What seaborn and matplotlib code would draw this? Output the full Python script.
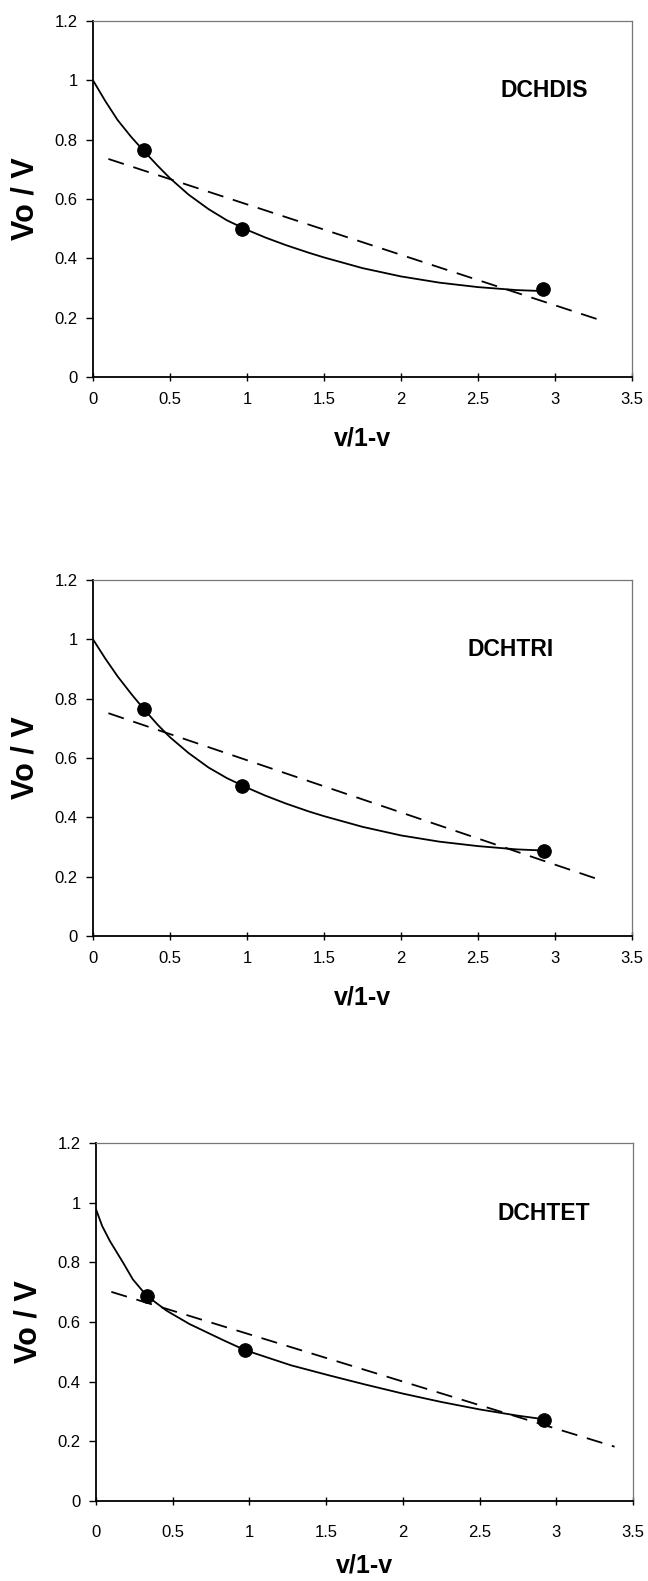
import matplotlib
matplotlib.use("Agg")
import matplotlib.pyplot as plt
import seaborn as sns
import pandas as pd

sns.set_style("ticks")
plt.rcParams["font.family"] = ["Liberation Sans", "DejaVu Sans"]
plt.rcParams["text.color"] = "black"
plt.rcParams["axes.labelcolor"] = "black"
plt.rcParams["xtick.color"] = "black"
plt.rcParams["ytick.color"] = "black"

# ---- data -------------------------------------------------------------
panel_names = ["DCHDIS", "DCHTRI", "DCHTET"]

# measured points (v/1-v, Vo/V)
dis_x = [0.33, 0.97, 2.92]
dis_y = [0.765, 0.50, 0.295]
tri_x = [0.33, 0.97, 2.93]
tri_y = [0.765, 0.505, 0.288]
tet_x = [0.33, 0.97, 2.92]
tet_y = [0.688, 0.507, 0.273]

# fitted curve (solid)
dis_curve_x = [0.0, 0.08, 0.16, 0.25, 0.33, 0.42, 0.5, 0.62, 0.75, 0.87, 1.0, 1.12,
               1.25, 1.4, 1.5, 1.75, 2.0, 2.25, 2.5, 2.75, 2.9]
dis_curve_y = [1.0, 0.93, 0.866, 0.808, 0.762, 0.712, 0.67, 0.615, 0.566, 0.528, 0.496, 0.47,
               0.445, 0.419, 0.403, 0.367, 0.339, 0.318, 0.303, 0.293, 0.290]
tri_curve_x = [0.0, 0.08, 0.16, 0.25, 0.33, 0.42, 0.5, 0.62, 0.75, 0.87, 1.0, 1.12,
               1.25, 1.4, 1.5, 1.75, 2.0, 2.25, 2.5, 2.75, 2.93]
tri_curve_y = [1.0, 0.935, 0.875, 0.815, 0.765, 0.712, 0.670, 0.617, 0.568, 0.532, 0.500, 0.473,
               0.447, 0.420, 0.404, 0.368, 0.339, 0.318, 0.303, 0.292, 0.288]
tet_curve_x = [0.0, 0.04, 0.09, 0.18, 0.24, 0.33, 0.46, 0.61, 0.83, 0.97, 1.27, 1.52,
               1.75, 2.0, 2.25, 2.5, 2.75, 2.92]
tet_curve_y = [0.978, 0.922, 0.872, 0.796, 0.743, 0.688, 0.638, 0.593, 0.539, 0.506, 0.455, 0.421,
               0.391, 0.360, 0.332, 0.307, 0.286, 0.274]

# linear fit (dashed): end points
dis_lin_x = [0.1, 3.31]
dis_lin_y = [0.735, 0.189]
tri_lin_x = [0.1, 3.27]
tri_lin_y = [0.751, 0.193]
tet_lin_x = [0.1, 3.38]
tet_lin_y = [0.701, 0.182]

x_ticks = [0, 0.5, 1, 1.5, 2, 2.5, 3, 3.5]
x_tick_labels = ["0", "0.5", "1", "1.5", "2", "2.5", "3", "3.5"]
y_ticks = [0, 0.2, 0.4, 0.6, 0.8, 1.0, 1.2]
y_tick_labels = ["0", "0.2", "0.4", "0.6", "0.8", "1", "1.2"]

panels = [
    (dis_x, dis_y, dis_curve_x, dis_curve_y, dis_lin_x, dis_lin_y, (2.93, 0.965)),
    (tri_x, tri_y, tri_curve_x, tri_curve_y, tri_lin_x, tri_lin_y, (2.71, 0.967)),
    (tet_x, tet_y, tet_curve_x, tet_curve_y, tet_lin_x, tet_lin_y, (2.92, 0.965)),
]

# ---- figure -----------------------------------------------------------
W, H = 648, 1581
fig = plt.figure(figsize=(W / 100, H / 100), dpi=100)

# axes boxes in pixels: left, top, right, bottom; x tick pad; x label pad
boxes = [(93, 21, 632, 377, 8, 14), (93, 580, 632, 936, 8, 14), (96, 1143, 633, 1501, 14, 10)]

for name, (px, py, cx, cy, lx, ly, lab), (l, t, r, b, xpad, lpad) in zip(panel_names, panels, boxes):
    ax = fig.add_axes([l / W, 1 - b / H, (r - l) / W, (b - t) / H])

    curve = pd.DataFrame({"x": cx, "y": cy})
    lin = pd.DataFrame({"x": lx, "y": ly})
    pts = pd.DataFrame({"x": px, "y": py})

    sns.lineplot(data=curve, x="x", y="y", ax=ax, color="black", lw=1.3,
                 sort=False, estimator=None)
    sns.lineplot(data=lin, x="x", y="y", ax=ax, color="black", lw=1.3,
                 sort=False, estimator=None, linestyle=(0, (9, 5.5)))
    sns.scatterplot(data=pts, x="x", y="y", ax=ax, color="black", s=95,
                    edgecolor="black", zorder=5)

    ax.set_xlim(0, 3.5)
    ax.set_ylim(0, 1.2)
    ax.set_xticks(x_ticks)
    ax.set_xticklabels(x_tick_labels)
    ax.set_yticks(y_ticks)
    ax.set_yticklabels(y_tick_labels)
    ax.tick_params(axis="x", direction="inout", length=6, width=1, labelsize=12, pad=xpad)
    ax.tick_params(axis="y", direction="out", length=5, width=1, labelsize=12, pad=6)

    for side in ("left", "bottom"):
        ax.spines[side].set_color("black")
        ax.spines[side].set_linewidth(1.3)
    for side in ("top", "right"):
        ax.spines[side].set_visible(True)
        ax.spines[side].set_color("#777777")
        ax.spines[side].set_linewidth(0.9)

    ax.set_xlabel("v/1-v", fontsize=18, fontweight="bold", labelpad=lpad)
    ax.set_ylabel("Vo / V", fontsize=22, fontweight="bold", labelpad=10)

    ax.text(lab[0], lab[1], name, fontsize=16.5, fontweight="bold",
            ha="center", va="center")

fig.savefig("out.png", dpi=100)
